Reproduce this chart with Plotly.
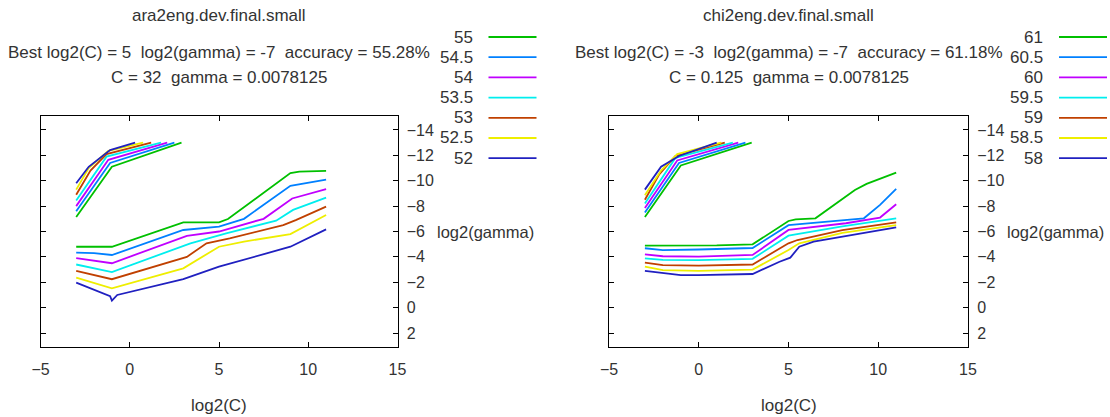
import plotly.graph_objects as go

# contour levels (accuracy %) and their gnuplot colours
ara_levels = [55, 54.5, 54, 53.5, 53, 52.5, 52]
chi_levels = [61, 60.5, 60, 59.5, 59, 58.5, 58]
line_colors = ["#00c000", "#0080ff", "#c000ff", "#00eeee", "#c04000", "#eeee00", "#2020c0"]

# ara2eng contour lines, log2(C) / log2(gamma); None splits the upper and lower branch
ara_x = [
    [-3, -1, 2.9, None, -3, -1, 3, 5, 5.5, 9, 9.5, 11],
    [-3, -1.1, 2.5, None, -3, -2, -1, 3, 5, 6.4, 9, 11],
    [-3, -1.2, 2.1, None, -3, -1, 3.2, 5, 7.5, 9.1, 11],
    [-3, -1.3, 1.75, None, -3, -1, 3.4, 5.4, 8.2, 9.15, 11],
    [-3, -2.2, -1.3, 1.2, None, -3, -1, 3.2, 4.3, 5.6, 8.6, 9.3, 11],
    [-3, -2.3, -1.2, 0.75, None, -3, -1, 3, 5, 6.4, 9, 11],
    [-3, -2.3, -1.1, 0.3, None, -3, -1.1, -1, -0.7, 3, 5, 9, 11],
]
ara_y = [
    [-7.15, -11.1, -13, None, -4.8, -4.8, -6.72, -6.72, -6.98, -10.6, -10.72, -10.78],
    [-7.6, -11.4, -13, None, -4.33, -4.3, -4.15, -6.12, -6.38, -7.0, -9.6, -10.08],
    [-8.0, -11.65, -13, None, -3.9, -3.5, -5.65, -6.0, -7.0, -8.6, -9.33],
    [-8.45, -11.9, -13, None, -3.4, -2.8, -5.07, -5.86, -6.85, -7.7, -8.67],
    [-8.9, -10.8, -12.1, -13, None, -2.9, -2.24, -4.0, -5.07, -5.46, -6.5, -6.9, -7.96],
    [-9.3, -11.0, -12.35, -13, None, -2.36, -1.52, -3.1, -4.8, -5.2, -5.8, -7.3],
    [-9.8, -11.1, -12.42, -13, None, -1.97, -0.9, -0.55, -1.0, -2.24, -3.23, -4.8, -6.17],
]

# chi2eng contour lines
chi_x = [
    [-3, -1, 2.95, None, -3, 1, 3, 5, 5.4, 6.5, 8.7, 9.35, 11],
    [-3, -1.1, 2.6, None, -3, -2, 0, 2, 3, 5, 7.3, 9.2, 10.1, 11],
    [-3, -1.2, 2.2, None, -3, -2, 0, 2, 3, 5, 8.2, 10.1, 11],
    [-3, -1.3, 1.9, None, -3, -2, 0, 2, 3, 5, 8, 11],
    [-3, -2.2, -1.3, 1.45, None, -3, -2, 0, 2, 3, 5, 5.5, 8, 11],
    [-3, -2.1, -1.2, 1.25, None, -3, -2, 0, 2, 3, 5, 5.6, 8, 11],
    [-3, -2.1, -1.1, 1.0, None, -3, -2, -1, 0, 2, 3, 4.5, 5.1, 5.6, 6.4, 11],
]
chi_y = [
    [-7.15, -11.2, -13, None, -4.88, -4.9, -4.99, -6.83, -6.96, -7.04, -9.27, -9.75, -10.64],
    [-7.5, -11.4, -13, None, -4.68, -4.54, -4.58, -4.68, -4.7, -6.5, -6.77, -7.04, -8.1, -9.35],
    [-7.85, -11.6, -13, None, -4.2, -4.05, -4.02, -4.1, -4.15, -6.12, -6.65, -7.1, -8.15],
    [-8.2, -11.8, -13, None, -3.89, -3.76, -3.74, -3.8, -3.85, -5.67, -6.4, -7.04],
    [-8.5, -10.5, -11.95, -13, None, -3.55, -3.35, -3.31, -3.35, -3.4, -5.07, -5.33, -6.1, -6.72],
    [-8.85, -10.8, -12.1, -13, None, -3.23, -2.95, -2.89, -2.95, -3.0, -4.54, -5.07, -5.9, -6.51],
    [-9.3, -11.1, -11.95, -13, None, -2.89, -2.75, -2.57, -2.57, -2.6, -2.65, -3.62, -3.94, -4.8, -5.2, -6.33],
]

x_ticks = [-5, 0, 5, 10, 15]
y_ticks = [-14, -12, -10, -8, -6, -4, -2, 0, 2]

titles = ["ara2eng.dev.final.small", "chi2eng.dev.final.small"]
best_lines = ["Best log2(C) = 5  log2(gamma) = -7  accuracy = 55.28%",
              "Best log2(C) = -3  log2(gamma) = -7  accuracy = 61.18%"]
c_lines = ["C = 32  gamma = 0.0078125", "C = 0.125  gamma = 0.0078125"]

W, H = 1110, 417
FONT = "Liberation Sans"
TXT = "#333333"


def fx(px):
    return px / W


def fy(py):
    return 1 - py / H


# plot boxes in window pixels: (left, right), top, bottom
boxes = [(40.5, 397.5), (609, 968)]
top_px, bot_px = 116, 347

fig = go.Figure()

panels = [(ara_levels, ara_x, ara_y), (chi_levels, chi_x, chi_y)]
for p, (levels, xs, ys) in enumerate(panels):
    xa = "x" if p == 0 else "x2"
    ya = "y" if p == 0 else "y2"
    for lev, lx, ly, col in zip(levels, xs, ys, line_colors):
        fig.add_trace(go.Scatter(x=lx, y=ly, mode="lines", xaxis=xa, yaxis=ya,
                                 line=dict(color=col, width=1.8), name=str(lev),
                                 showlegend=False))

axis_common = dict(showgrid=False, zeroline=False, showline=True, linecolor="black",
                   linewidth=1, ticks="inside", ticklen=5, tickcolor="black",
                   mirror="allticks", automargin=False,
                   tickfont=dict(family=FONT, size=16, color=TXT))

ydom = [fy(bot_px), fy(top_px)]
annotations = []
shapes = []
for p in range(2):
    l, r = boxes[p]
    sfx = "" if p == 0 else "2"
    fig.update_layout(**{
        "xaxis" + sfx: dict(axis_common, domain=[fx(l), fx(r)], range=[-5, 15],
                            tickvals=x_ticks, anchor="y" + sfx, ticklabelstandoff=8),
        "yaxis" + sfx: dict(axis_common, domain=ydom, range=[3.1, -15.1],
                            tickvals=y_ticks, side="right", anchor="x" + sfx,
                            ticklabelstandoff=5),
    })
    cx = (l + r) / 2
    for txt, py in [(titles[p], 15), (best_lines[p], 52), (c_lines[p], 78)]:
        annotations.append(dict(text=txt, x=fx(cx), y=fy(py), xref="paper", yref="paper",
                                showarrow=False, xanchor="center", yanchor="middle",
                                font=dict(family=FONT, size=17, color=TXT)))
    annotations.append(dict(text="log2(C)", x=fx(cx), y=fy(405), xref="paper",
                            yref="paper", showarrow=False, xanchor="center", yanchor="middle",
                            font=dict(family=FONT, size=17, color=TXT)))
    annotations.append(dict(text="log2(gamma)", x=fx(r + 37), y=fy(232), xref="paper",
                            yref="paper", showarrow=False, xanchor="left", yanchor="middle",
                            font=dict(family=FONT, size=16.5, color=TXT)))
    # key: level text on the left, sample line on the right
    levels = panels[p][0]
    for i, (lev, col) in enumerate(zip(levels, line_colors)):
        py = 37 + i * 20.2
        annotations.append(dict(text=str(lev), x=fx(r + 77), y=fy(py), xref="paper",
                                yref="paper", showarrow=False, xanchor="right",
                                yanchor="middle",
                                font=dict(family=FONT, size=17, color=TXT)))
        shapes.append(dict(type="line", xref="paper", yref="paper",
                           x0=fx(r + 91), x1=fx(r + 139),
                           y0=fy(py), y1=fy(py), line=dict(color=col, width=1.8)))

fig.update_layout(width=W, height=H, autosize=False, margin=dict(l=0, r=0, t=0, b=0),
                  plot_bgcolor="white", paper_bgcolor="white", showlegend=False,
                  annotations=annotations, shapes=shapes)

# drop the default 8px body margin so the figure fills the window exactly
fig.write_html("out.html", config={"displayModeBar": False},
               post_script="document.body.style.margin='0';document.body.style.overflow='hidden';")
